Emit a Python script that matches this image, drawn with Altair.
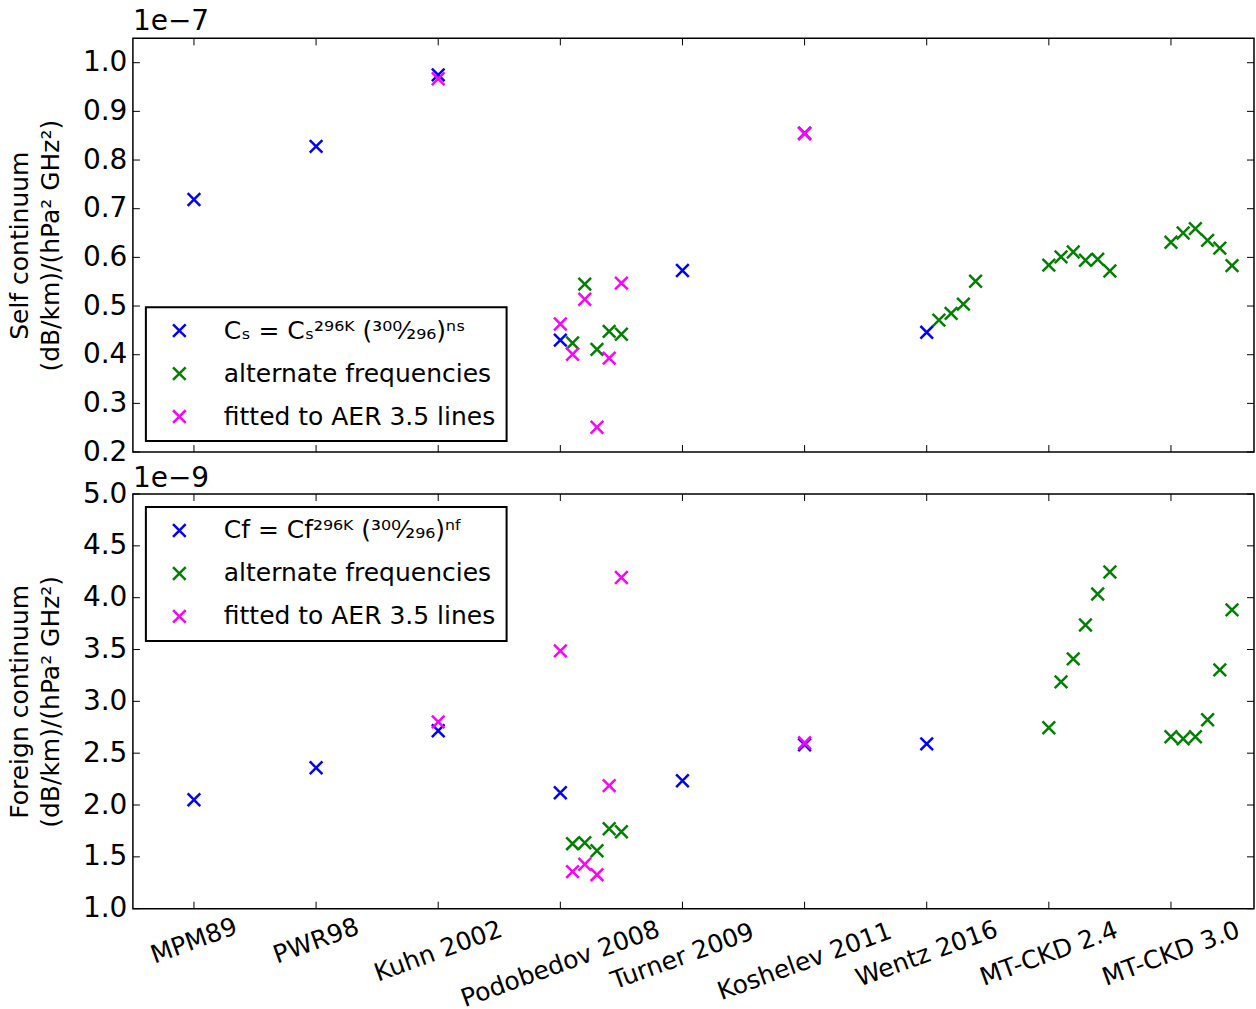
import math
import altair as alt
import pandas as pd

# ---------------- data ----------------
categories = ["MPM89", "PWR98", "Kuhn 2002", "Podobedov 2008", "Turner 2009",
              "Koshelev 2011", "Wentz 2016", "MT-CKD 2.4", "MT-CKD 3.0"]
category_pos = [0, 1, 2, 3, 4, 5, 6, 7, 8]

# Self continuum (units of 1e-7)
self_fit_x = [0, 1, 2, 3, 4, 5, 6]
self_fit_y = [0.719, 0.828, 0.975, 0.430, 0.573, 0.855, 0.446]
self_alt_x = [3.1, 3.2, 3.3, 3.4, 3.5, 6.1, 6.2, 6.3, 6.4,
              7.0, 7.1, 7.2, 7.3, 7.4, 7.5, 8.0, 8.1, 8.2, 8.3, 8.4, 8.5]
self_alt_y = [0.424, 0.545, 0.411, 0.448, 0.442, 0.471, 0.485, 0.504, 0.551,
              0.584, 0.601, 0.611, 0.594, 0.596, 0.572, 0.631, 0.650, 0.659, 0.635, 0.619, 0.583]
self_aer_x = [2, 3.0, 3.1, 3.2, 3.3, 3.4, 3.5, 5]
self_aer_y = [0.967, 0.463, 0.401, 0.514, 0.251, 0.393, 0.547, 0.854]

# Foreign continuum (units of 1e-9)
foreign_fit_x = [0, 1, 2, 3, 4, 5, 6]
foreign_fit_y = [2.051, 2.359, 2.716, 2.118, 2.234, 2.581, 2.590]
foreign_alt_x = [3.1, 3.2, 3.3, 3.4, 3.5,
                 7.0, 7.1, 7.2, 7.3, 7.4, 7.5, 8.0, 8.1, 8.2, 8.3, 8.4, 8.5]
foreign_alt_y = [1.627, 1.636, 1.559, 1.771, 1.742,
                 2.745, 3.188, 3.410, 3.737, 4.036, 4.248, 2.658, 2.639, 2.658, 2.822, 3.304, 3.882]
foreign_aer_x = [2, 3.0, 3.1, 3.2, 3.3, 3.4, 3.5, 5]
foreign_aer_y = [2.802, 3.487, 1.357, 1.428, 1.328, 2.187, 4.195, 2.600]

self_y_ticks = [0.2, 0.3, 0.4, 0.5, 0.6, 0.7, 0.8, 0.9, 1.0]
foreign_y_ticks = [1.0, 1.5, 2.0, 2.5, 3.0, 3.5, 4.0, 4.5, 5.0]

label_self = "Cₛ = Cₛ²⁹⁶ᴷ (³⁰⁰⁄₂₉₆)ⁿˢ"
label_foreign = "Cf = Cf²⁹⁶ᴷ (³⁰⁰⁄₂₉₆)ⁿᶠ"
label_alt = "alternate frequencies"
label_aer = "fitted to AER 3.5 lines"
colors = ["#0000ff", "#008000", "#ff00ff"]

# ---------------- styling ----------------
FONT = "DejaVu Sans"
W = 1122
XPATH = "M-1,-1L1,1M-1,1L1,-1"
x_scale = alt.Scale(domain=[-0.5, 8.68], nice=False, zero=False)


def panel(fx, fy, ax, ay, mx, my, first_label, yticks, ydomain, title_lines,
          height, legend_y, exponent, exp_y, with_xlabels):
    rows = []
    for xs, ys, s in ((fx, fy, first_label), (ax, ay, label_alt), (mx, my, label_aer)):
        for a, b in zip(xs, ys):
            rows.append({"x": a, "y": b, "series": s})
    df = pd.DataFrame(rows)

    y_scale = alt.Scale(domain=ydomain, nice=False, zero=False)
    y_axis = alt.Axis(values=yticks, format=".1f", labelFontSize=28, labelFont=FONT,
                      labelColor="black", labelPadding=6, ticks=False, tickSize=0,
                      domain=False, grid=False, labelFlush=False, labelOverlap=False,
                      title=title_lines, titleFontSize=25, titleFont=FONT,
                      titleFontWeight="normal", titleColor="black", titleAngle=270,
                      titleX=-100, titleY=height / 2, titleAlign="center",
                      titleBaseline="bottom", titleLineHeight=31)
    dom = [first_label, label_alt, label_aer]
    legend = alt.Legend(orient="none", legendX=13, legendY=legend_y, title=None,
                        symbolType=XPATH, symbolSize=160, symbolStrokeWidth=2.5,
                        symbolFillColor="transparent", labelFontSize=25, labelFont=FONT,
                        labelColor="black", padding=11, rowPadding=17, symbolOffset=10,
                        labelOffset=32, strokeColor="black", fillColor="white",
                        labelLimit=500)

    points = alt.Chart(df).mark_point(shape=XPATH, size=160, strokeWidth=2.5,
                                      filled=False, opacity=1).encode(
        x=alt.X("x:Q", scale=x_scale, axis=None),
        y=alt.Y("y:Q", scale=y_scale, axis=y_axis),
        color=alt.Color("series:N", scale=alt.Scale(domain=dom, range=colors),
                        legend=legend, sort=dom),
    )

    xt = pd.DataFrame({"x": category_pos})
    yt = pd.DataFrame({"y": yticks})
    xb = alt.Chart(xt).mark_rule(color="black", strokeWidth=1).encode(
        x=alt.X("x:Q", scale=x_scale, axis=None),
        y=alt.value(height), y2=alt.value(height - 7))
    xtp = alt.Chart(xt).mark_rule(color="black", strokeWidth=1).encode(
        x=alt.X("x:Q", scale=x_scale, axis=None),
        y=alt.value(0), y2=alt.value(7))
    yl = alt.Chart(yt).mark_rule(color="black", strokeWidth=1).encode(
        y=alt.Y("y:Q", scale=y_scale, axis=y_axis),
        x=alt.value(0), x2=alt.value(7))
    yr = alt.Chart(yt).mark_rule(color="black", strokeWidth=1).encode(
        y=alt.Y("y:Q", scale=y_scale, axis=y_axis),
        x=alt.value(W), x2=alt.value(W - 7))
    exp_text = alt.Chart(pd.DataFrame({"t": [exponent]})).mark_text(
        align="left", baseline="alphabetic", fontSize=28, font=FONT, color="black"
    ).encode(x=alt.value(0), y=alt.value(exp_y), text="t:N")

    layers = [points, xb, xtp, yl, yr, exp_text]
    one = pd.DataFrame({"k": [0]})
    if with_xlabels:
        lab = pd.DataFrame({"x": category_pos, "label": categories})
        xlab = alt.Chart(lab).mark_text(
            angle=340, align="center", baseline="middle", fontSize=25, font=FONT,
            color="black", theta=math.pi,
            radius=alt.expr("6 + (length(datum.label) * 15 * 0.342 + 27) / 2"),
        ).encode(x=alt.X("x:Q", scale=x_scale, axis=None), y=alt.value(height),
                 text="label:N")
        layers.append(xlab)
        # page-extent anchor (bottom edge of the page)
        layers.append(alt.Chart(one).mark_rect(color="white").encode(
            x=alt.value(-132), x2=alt.value(-131),
            y=alt.value(height + 99), y2=alt.value(height + 100)))
    else:
        # page-extent anchor (top-left corner of the page)
        layers.append(alt.Chart(one).mark_rect(color="white").encode(
            x=alt.value(-132), x2=alt.value(-131),
            y=alt.value(-37), y2=alt.value(-36)))
    return alt.layer(*layers).properties(width=W, height=height)


top = panel(self_fit_x, self_fit_y, self_alt_x, self_alt_y, self_aer_x, self_aer_y,
            label_self, self_y_ticks, [0.2, 1.05],
            ["Self continuum", "(dB/km)/(hPa² GHz²)"], 414, 269, "1e−7", -8, False)
bottom = panel(foreign_fit_x, foreign_fit_y, foreign_alt_x, foreign_alt_y,
               foreign_aer_x, foreign_aer_y, label_foreign, foreign_y_ticks, [1.0, 5.0],
               ["Foreign continuum", "(dB/km)/(hPa² GHz²)"], 415, 13, "1e−9", -7, True)

chart = alt.vconcat(top, bottom, spacing=42, bounds="flush").resolve_scale(
    color="independent").resolve_legend(color="independent").properties(
    padding=0,
).configure(font=FONT, background="white").configure_view(
    stroke="black", strokeWidth=1.5).configure_legend(strokeWidth=2)

chart.save("out.html", embed_options={"renderer": "svg", "actions": False})
